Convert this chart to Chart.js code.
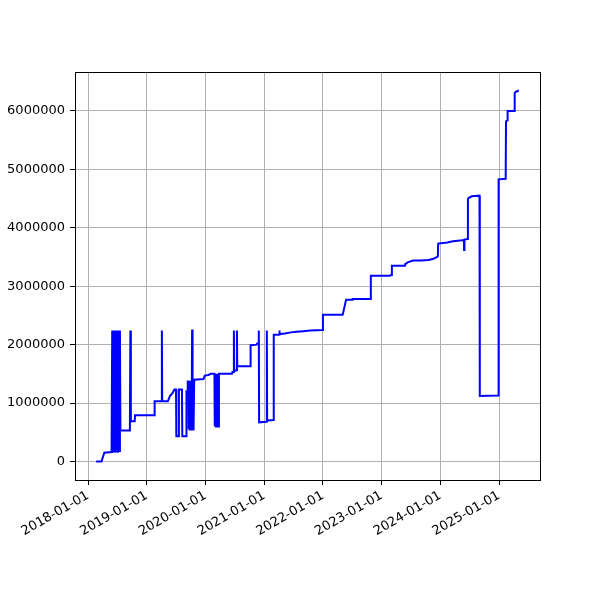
<!DOCTYPE html>
<html>
<head>
<meta charset="utf-8">
<script src="https://cdn.jsdelivr.net/npm/chart.js@4/dist/chart.umd.min.js"></script>
<style>
  html, body { margin: 0; padding: 0; background: #ffffff; }
  #wrap { width: 600px; height: 600px; }
</style>
</head>
<body>
<div id="wrap"><canvas id="chart" width="600" height="600"></canvas></div>
<script>
// sample dates and running values
const dates = [
    '2018-02-20', '2018-03-25', '2018-04-12', '2018-05-27', '2018-05-31', '2018-06-04', '2018-06-08',
    '2018-06-12', '2018-06-16', '2018-06-20', '2018-06-24', '2018-06-28', '2018-07-02', '2018-07-06',
    '2018-07-10', '2018-07-14', '2018-07-18', '2018-07-21', '2018-09-18', '2018-09-21', '2018-09-24',
    '2018-10-18', '2018-10-20', '2019-02-17', '2019-02-19', '2019-04-03', '2019-04-05', '2019-04-07',
    '2019-05-12', '2019-05-25', '2019-06-10', '2019-06-22', '2019-07-02', '2019-07-04', '2019-07-18',
    '2019-07-20', '2019-08-08', '2019-08-10', '2019-09-03', '2019-09-05', '2019-09-12', '2019-09-13',
    '2019-09-17', '2019-09-19', '2019-09-22', '2019-09-25', '2019-09-28', '2019-10-01', '2019-10-04',
    '2019-10-07', '2019-10-10', '2019-10-13', '2019-10-16', '2019-10-19', '2019-10-23', '2019-12-20',
    '2019-12-28', '2020-01-20', '2020-02-01', '2020-02-26', '2020-02-28', '2020-03-03', '2020-03-07',
    '2020-03-11', '2020-03-15', '2020-03-19', '2020-03-23', '2020-03-25', '2020-06-14', '2020-06-17',
    '2020-06-24', '2020-06-26', '2020-06-28', '2020-07-13', '2020-07-15', '2020-07-17', '2020-10-06',
    '2020-10-08', '2020-11-15', '2020-11-18', '2020-11-26', '2020-11-28', '2020-11-30', '2021-01-15',
    '2021-01-17', '2021-01-19', '2021-02-27', '2021-03-01', '2021-04-03', '2021-04-05', '2021-04-07',
    '2021-05-10', '2021-06-15', '2021-07-20', '2021-09-01', '2021-10-15', '2021-12-28', '2022-01-01',
    '2022-05-04', '2022-05-25', '2022-07-01', '2022-07-05', '2022-10-23', '2022-10-26', '2023-02-20',
    '2023-03-03', '2023-03-06', '2023-05-26', '2023-05-28', '2023-06-05', '2023-06-12', '2023-07-16',
    '2023-09-01', '2023-10-20', '2023-11-20', '2023-12-10', '2023-12-17', '2023-12-19', '2024-02-15',
    '2024-03-20', '2024-04-20', '2024-05-27', '2024-05-28', '2024-05-30', '2024-05-31', '2024-06-19',
    '2024-06-21', '2024-06-25', '2024-07-15', '2024-09-01', '2024-09-03', '2024-12-27', '2024-12-29',
    '2025-02-11', '2025-02-13', '2025-02-21', '2025-02-23', '2025-04-05', '2025-04-08', '2025-04-16',
    '2025-05-04'
];

const values = [
    0, 0, 150000, 160000, 2240000, 150000, 2240000,
    170000, 2240000, 150000, 2240000, 160000, 2240000, 150000,
    2240000, 180000, 2240000, 530000, 530000, 2240000, 690000,
    690000, 790000, 790000, 1030000, 1030000, 2240000, 1030000,
    1030000, 1120000, 1170000, 1230000, 1230000, 430000, 430000,
    1230000, 1230000, 430000, 430000, 1200000, 1200000, 1370000,
    1370000, 550000, 1380000, 530000, 1380000, 550000, 1380000,
    530000, 2260000, 550000, 1380000, 530000, 1400000, 1410000,
    1470000, 1480000, 1500000, 1500000, 600000, 1500000, 600000,
    1500000, 600000, 1500000, 600000, 1500000, 1500000, 1530000,
    1530000, 2240000, 1550000, 1560000, 2240000, 1630000, 1630000,
    1990000, 2000000, 2020000, 2020000, 2240000, 670000, 680000,
    2240000, 700000, 710000, 2170000, 2170000, 2240000, 2180000,
    2190000, 2210000, 2220000, 2230000, 2240000, 2250000, 2510000,
    2510000, 2770000, 2770000, 2780000, 2780000, 3180000, 3180000,
    3190000, 3350000, 3350000, 3380000, 3390000, 3410000, 3440000,
    3440000, 3450000, 3470000, 3500000, 3510000, 3730000, 3750000,
    3770000, 3780000, 3790000, 3620000, 3620000, 3800000, 3810000,
    4490000, 4510000, 4540000, 4550000, 1120000, 1130000, 4830000,
    4840000, 5820000, 5840000, 6000000, 6000000, 6310000, 6330000,
    6350000
];

const xTickLabels = ['2018-01-01', '2019-01-01', '2020-01-01', '2021-01-01',
    '2022-01-01', '2023-01-01', '2024-01-01', '2025-01-01'];
const yTickValues = [0, 1000000, 2000000, 3000000, 4000000, 5000000, 6000000];

const points = dates.map((d, i) => ({ x: Date.parse(d), y: values[i] }));

// matplotlib style 5% margins around the data
const xs = points.map(p => p.x);
const xMin = Math.min(...xs), xMax = Math.max(...xs);
const yMin = Math.min(...values), yMax = Math.max(...values);
const xPad = (xMax - xMin) * 0.05;
const yPad = (yMax - yMin) * 0.05;

const font = { family: 'DejaVu Sans', size: 13 };

const frame = {
    id: 'frame',
    afterDraw(chart) {
        const { ctx, chartArea: a } = chart;
        ctx.save();
        ctx.strokeStyle = '#000000';
        ctx.lineWidth = 1;
        ctx.strokeRect(Math.round(a.left) + 0.5, Math.round(a.top) + 0.5,
            Math.round(a.right - a.left), Math.round(a.bottom - a.top));
        ctx.restore();
    }
};

new Chart(document.getElementById('chart'), {
    type: 'line',
    data: {
        datasets: [{
            data: points,
            borderColor: '#0000ff',
            backgroundColor: '#0000ff',
            borderWidth: 2,
            pointRadius: 0,
            tension: 0,
            fill: false
        }]
    },
    options: {
        responsive: false,
        animation: false,
        layout: { padding: { top: 72, right: 60, left: 0, bottom: 0 } },
        plugins: {
            legend: { display: false },
            tooltip: { enabled: false }
        },
        scales: {
            x: {
                type: 'linear',
                min: xMin - xPad,
                max: xMax + xPad,
                afterBuildTicks: scale => {
                    scale.ticks = xTickLabels.map(l => ({ value: Date.parse(l) }));
                },
                afterFit: scale => { scale.height = 120; },
                ticks: {
                    autoSkip: false,
                    minRotation: 30,
                    maxRotation: 30,
                    padding: 3,
                    color: '#000000',
                    font: font,
                    callback: (v, i) => xTickLabels[i]
                },
                grid: {
                    color: '#b0b0b0',
                    lineWidth: 1,
                    tickColor: '#000000',
                    tickLength: 5
                },
                border: { color: '#000000', width: 1 }
            },
            y: {
                min: yMin - yPad,
                max: yMax + yPad,
                afterBuildTicks: scale => {
                    scale.ticks = yTickValues.map(v => ({ value: v }));
                },
                afterFit: scale => { scale.width = 75; },
                ticks: {
                    padding: 5,
                    color: '#000000',
                    font: font,
                    callback: v => String(v)
                },
                grid: {
                    color: '#b0b0b0',
                    lineWidth: 1,
                    tickColor: '#000000',
                    tickLength: 5
                },
                border: { color: '#000000', width: 1 }
            }
        }
    },
    plugins: [frame]
});
</script>
</body>
</html>
